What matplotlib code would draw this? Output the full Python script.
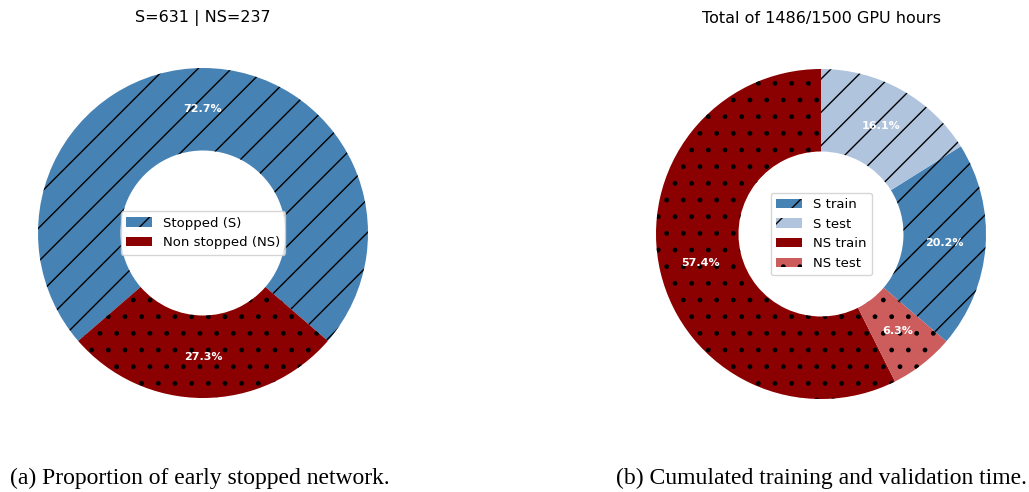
import matplotlib
matplotlib.use("Agg")
import matplotlib.pyplot as plt

# Left donut: counts of early-stopped vs non-stopped networks
stop_labels = ["Stopped (S)", "Non stopped (NS)"]
stop_counts = [631, 237]
stop_colors = ["steelblue", "darkred"]
stop_hatches = ["/", "."]

# Right donut: GPU hours, drawn counter-clockwise from the top
time_labels = ["NS train", "NS test", "S train", "S test"]
time_hours = [853, 94, 300, 239]
time_colors = ["darkred", "indianred", "steelblue", "lightsteelblue"]
time_hatches = [".", ".", "/", "/"]
legend_order = ["S train", "S test", "NS train", "NS test"]
budget_hours = 1500

W, H = 1029, 492
fig = plt.figure(figsize=(W / 100, H / 100), dpi=100)
plt.rcParams["hatch.linewidth"] = 1.0

R = 165


def donut_axes(cx, cy):
    return fig.add_axes([(cx - R) / W, (H - cy - R) / H, 2 * R / W, 2 * R / H])


def draw_donut(ax, values, colors, hatches, startangle):
    wedges, _, autotexts = ax.pie(
        values, colors=colors, startangle=startangle, counterclock=True,
        autopct="%1.1f%%", pctdistance=0.75,
        wedgeprops=dict(width=0.5, linewidth=0),
        textprops=dict(color="white", fontweight="bold", fontsize=8))
    for w, h in zip(wedges, hatches):
        w.set_hatch(h)
        w.set_edgecolor("black")
        w.set_linewidth(0)
    ax.set_xlim(-1, 1)
    ax.set_ylim(-1, 1)
    ax.set_aspect("equal")
    return wedges


ax1 = donut_axes(203, 233)
frac_ns = stop_counts[1] / sum(stop_counts)
w1 = draw_donut(ax1, stop_counts, stop_colors, stop_hatches,
                startangle=-90 + frac_ns * 180)
ax1.legend(w1, stop_labels, loc="center", fontsize=9.5)
ax1.set_title(f"S={stop_counts[0]} | NS={stop_counts[1]}", fontsize=11.5, pad=33)

ax2 = donut_axes(821, 234)
w2 = draw_donut(ax2, time_hours, time_colors, time_hatches, startangle=90)
handles = [w2[time_labels.index(l)] for l in legend_order]
ax2.legend(handles, legend_order, loc="center", fontsize=9.5)
ax2.set_title(f"Total of {sum(time_hours)}/{budget_hours} GPU hours",
              fontsize=11.5, pad=33)

fig.text(10 / W, 1 - 478 / H, "(a) Proportion of early stopped network.",
         family="Liberation Serif", fontsize=17, ha="left", va="center")
fig.text(1027 / W, 1 - 478 / H, "(b) Cumulated training and validation time.",
         family="Liberation Serif", fontsize=17, ha="right", va="center")

fig.savefig("out.png", dpi=100)
